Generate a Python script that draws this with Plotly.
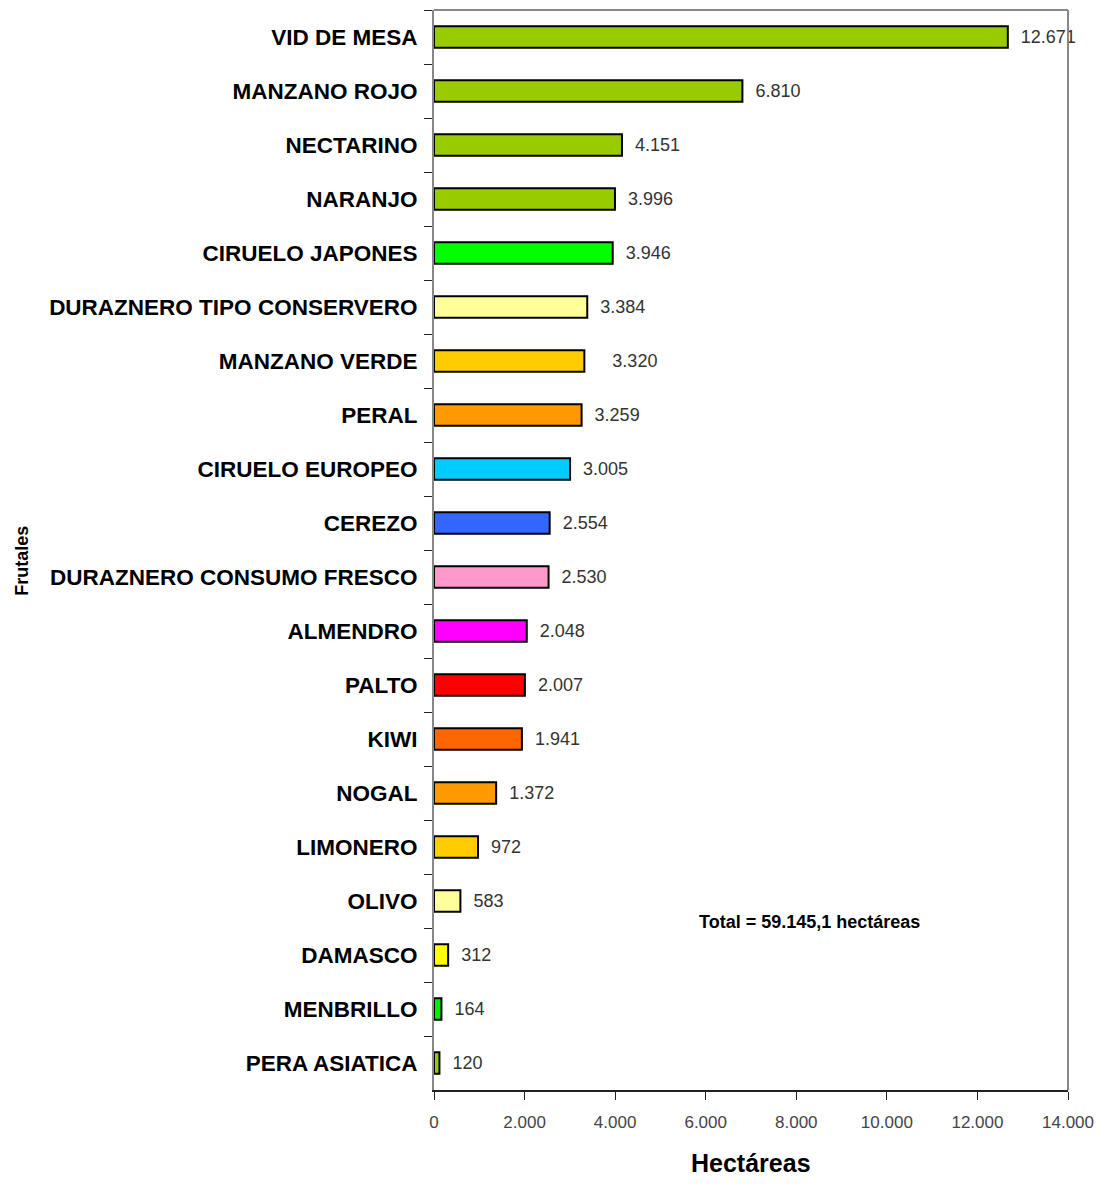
import plotly.graph_objects as go

# Superficie de frutales (hectáreas)
frutales = [
    "VID DE MESA", "MANZANO ROJO", "NECTARINO", "NARANJO", "CIRUELO JAPONES",
    "DURAZNERO TIPO CONSERVERO", "MANZANO VERDE", "PERAL", "CIRUELO EUROPEO",
    "CEREZO", "DURAZNERO CONSUMO FRESCO", "ALMENDRO", "PALTO", "KIWI", "NOGAL",
    "LIMONERO", "OLIVO", "DAMASCO", "MENBRILLO", "PERA ASIATICA",
]
hectareas = [
    12671, 6810, 4151, 3996, 3946, 3384, 3320, 3259, 3005, 2554,
    2530, 2048, 2007, 1941, 1372, 972, 583, 312, 164, 120,
]
etiquetas = [
    "12.671", "6.810", "4.151", "3.996", "3.946", "3.384", "   3.320", "3.259",
    "3.005", "2.554", "2.530", "2.048", "2.007", "1.941", "1.372", "972",
    "583", "312", "164", "120",
]
colores = [
    "#99CC00", "#99CC00", "#99CC00", "#99CC00", "#00FF00",
    "#FFFF99", "#FFCC00", "#FF9900", "#00CCFF", "#3366FF",
    "#FF99CC", "#FF00FF", "#FF0000", "#FF6600", "#FF9900",
    "#FFCC00", "#FFFF99", "#FFFF00", "#00EE00", "#99CC00",
]
x_ticks = [0, 2000, 4000, 6000, 8000, 10000, 12000, 14000]
x_tick_text = ["0", "2.000", "4.000", "6.000", "8.000", "10.000", "12.000", "14.000"]

FONT = "Liberation Sans, Arial, sans-serif"

fig = go.Figure()
fig.add_trace(go.Bar(
    x=hectareas,
    y=frutales,
    orientation="h",
    width=0.4,
    marker=dict(color=colores, line=dict(color="black", width=2)),
    text=["  " + t for t in etiquetas],
    textposition="outside",
    cliponaxis=False,
    textfont=dict(family=FONT, size=18, color="#333333"),
    showlegend=False,
))

fig.update_layout(
    width=1097,
    height=1170,
    margin=dict(l=426, r=37, t=2, b=88),
    paper_bgcolor="white",
    plot_bgcolor="white",
    xaxis=dict(
        range=[0, 14000],
        tickvals=x_ticks,
        ticktext=x_tick_text,
        showgrid=False,
        zeroline=False,
        showline=True,
        linecolor="#222222",
        linewidth=2,
        ticks="outside",
        ticklen=8,
        tickcolor="#222222",
        ticklabelstandoff=8,
        tickfont=dict(family=FONT, size=17, color="#444444"),
    ),
    yaxis=dict(
        autorange="reversed",
        showgrid=False,
        zeroline=False,
        showline=True,
        linecolor="#888888",
        linewidth=2,
        ticks="outside",
        tickson="boundaries",
        ticklen=8,
        tickcolor="#222222",
        ticklabelstandoff=10,
        tickfont=dict(family=FONT, size=22.5, color="black", weight="bold"),
    ),
    shapes=[
        dict(type="line", xref="paper", yref="paper", x0=0, x1=1, y0=1, y1=1,
             line=dict(color="#888888", width=2)),
        dict(type="line", xref="paper", yref="paper", x0=1, x1=1, y0=0, y1=1,
             line=dict(color="#888888", width=2)),
    ],
    annotations=[
        dict(text="<b>Total = 59.145,1 hectáreas</b>", x=0.593, y=0.144,
             xref="paper", yref="paper", showarrow=False,
             font=dict(family=FONT, size=18, color="black")),
        dict(text="<b>Hectáreas</b>", x=0.5, y=0, yshift=-73,
             xref="paper", yref="paper", showarrow=False, yanchor="middle",
             font=dict(family=FONT, size=25, color="black")),
        dict(text="<b>Frutales</b>", x=0, y=0.49, xshift=-424,
             xref="paper", yref="paper", showarrow=False, textangle=-90,
             font=dict(family=FONT, size=18, color="black")),
    ],
)

fig.write_html("out.html")
